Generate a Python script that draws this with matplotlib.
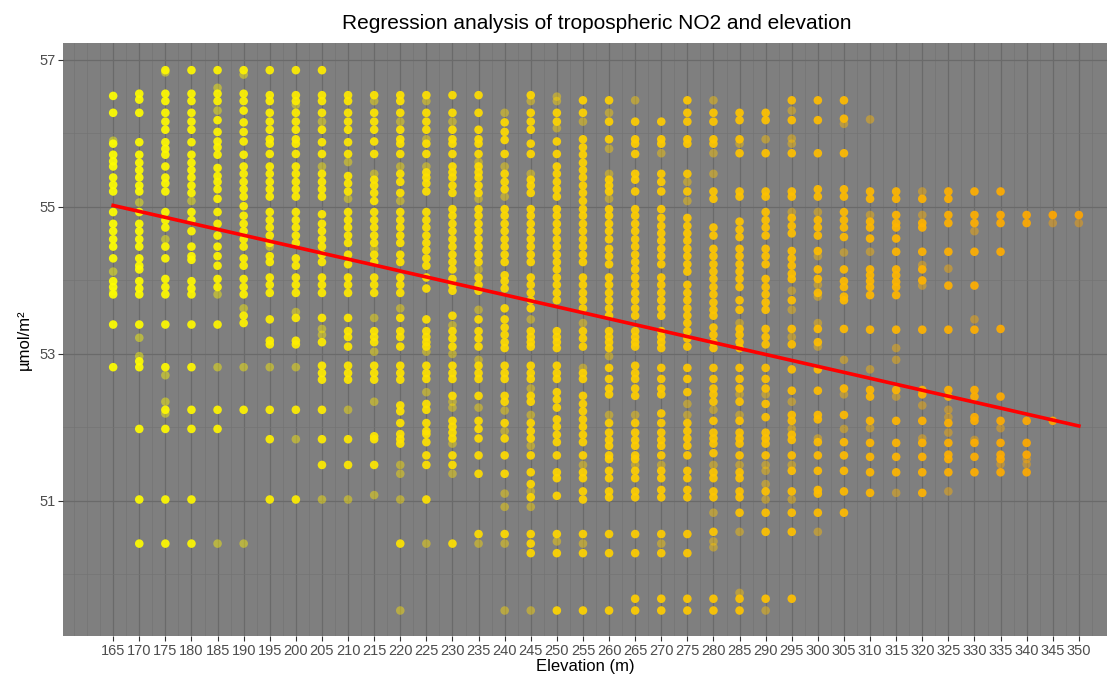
import numpy as np
import matplotlib
matplotlib.use('Agg')
import matplotlib.pyplot as plt
from matplotlib.colors import LinearSegmentedColormap, Normalize

plt.rcParams['font.family'] = ['Liberation Sans', 'DejaVu Sans']

# NO2 column values (umol/m2) read per elevation column; "faint" = single semi-transparent dots
no2_165 = [56.51, 56.28, 55.86, 55.71, 55.62, 55.55, 55.40, 55.30, 55.21, 54.93, 54.77, 54.67, 54.56, 54.46, 54.30, 53.99, 53.91, 53.81, 53.40, 52.82]
faint_165 = [55.90, 54.12, 53.85]
no2_170 = [56.54, 56.46, 56.28, 55.88, 55.71, 55.60, 55.50, 55.40, 55.29, 55.21, 54.93, 54.77, 54.67, 54.56, 54.46, 54.30, 54.20, 54.15, 53.99, 53.89, 53.81, 53.40, 52.90, 52.82, 51.98, 51.02, 50.42]
faint_170 = [55.06, 53.22, 52.97]
no2_175 = [56.86, 56.54, 56.44, 56.28, 56.16, 56.05, 55.88, 55.79, 55.71, 55.55, 55.40, 55.32, 55.21, 54.93, 54.82, 54.72, 54.46, 54.30, 54.02, 53.91, 53.81, 53.40, 52.82, 52.24, 51.98, 51.02, 50.42]
faint_175 = [56.83, 54.56, 52.71, 52.35, 52.19]
no2_180 = [56.86, 56.54, 56.44, 56.28, 56.16, 56.05, 55.88, 55.71, 55.60, 55.50, 55.40, 55.29, 55.19, 54.93, 54.82, 54.67, 54.46, 54.33, 54.28, 53.99, 53.89, 53.81, 53.40, 52.82, 52.24, 51.98, 51.02, 50.42]
faint_180 = [55.08]
no2_185 = [56.86, 56.54, 56.44, 56.18, 56.02, 55.89, 55.81, 55.71, 55.53, 55.42, 55.34, 55.24, 55.11, 54.93, 54.77, 54.61, 54.46, 54.33, 54.20, 54.02, 53.91, 53.40, 52.24, 51.98]
faint_185 = [56.62, 56.31, 53.81, 52.82, 50.42]
no2_190 = [56.86, 56.54, 56.44, 56.31, 56.15, 56.02, 55.89, 55.71, 55.55, 55.45, 55.34, 55.24, 55.14, 55.01, 54.88, 54.77, 54.67, 54.56, 54.46, 54.30, 54.20, 54.02, 53.91, 53.81, 53.52, 53.42, 52.24]
faint_190 = [56.80, 53.62, 52.82, 50.42]
no2_195 = [56.86, 56.52, 56.44, 56.28, 56.16, 56.05, 55.92, 55.86, 55.72, 55.55, 55.45, 55.34, 55.24, 55.14, 54.93, 54.82, 54.72, 54.61, 54.51, 54.33, 54.25, 54.04, 53.94, 53.83, 53.47, 53.18, 53.13, 52.24, 51.84, 51.02]
faint_195 = [54.46, 52.82]
no2_200 = [56.86, 56.52, 56.44, 56.28, 56.16, 56.05, 55.92, 55.86, 55.72, 55.55, 55.45, 55.34, 55.24, 55.14, 54.93, 54.82, 54.72, 54.61, 54.51, 54.30, 54.20, 54.04, 53.94, 53.83, 53.49, 53.18, 53.13, 52.24, 51.02]
faint_200 = [56.39, 53.57, 52.82, 51.84]
no2_205 = [56.86, 56.52, 56.44, 56.28, 56.05, 55.88, 55.72, 55.45, 55.34, 55.24, 55.14, 54.90, 54.77, 54.67, 54.56, 54.46, 54.35, 54.25, 54.04, 53.94, 53.83, 53.49, 53.16, 52.84, 52.74, 52.65, 52.24, 51.84, 51.49]
faint_205 = [56.16, 55.55, 53.34, 53.26, 51.02]
no2_210 = [56.52, 56.44, 56.28, 56.16, 56.05, 55.88, 55.72, 55.42, 55.32, 55.21, 54.93, 54.82, 54.72, 54.61, 54.51, 54.35, 54.22, 54.04, 53.94, 53.83, 53.49, 53.31, 53.23, 53.10, 52.84, 52.74, 52.65, 51.84, 51.49]
faint_210 = [55.61, 55.11, 52.24, 51.02]
no2_215 = [56.52, 56.28, 56.16, 56.05, 55.89, 55.72, 55.37, 55.29, 55.19, 55.08, 54.93, 54.82, 54.72, 54.61, 54.51, 54.35, 54.25, 54.04, 53.94, 53.83, 53.31, 53.23, 53.16, 52.84, 52.74, 52.65, 51.88, 51.84, 51.49]
faint_215 = [56.44, 55.45, 54.43, 53.49, 53.03, 52.35, 51.08]
no2_220 = [56.52, 56.44, 56.28, 56.05, 55.92, 55.86, 55.72, 55.45, 55.34, 55.19, 54.93, 54.82, 54.72, 54.61, 54.51, 54.35, 54.25, 54.04, 53.94, 53.83, 53.49, 53.31, 53.23, 53.10, 52.84, 52.74, 52.65, 52.30, 52.22, 52.06, 51.91, 51.84, 51.78, 50.42]
faint_220 = [56.16, 55.55, 55.08, 53.62, 51.49, 51.37, 51.02, 49.51]
no2_225 = [56.52, 56.28, 56.16, 56.05, 55.86, 55.72, 55.47, 55.40, 55.32, 55.21, 54.93, 54.82, 54.72, 54.61, 54.51, 54.41, 54.30, 54.20, 54.04, 53.89, 53.47, 53.31, 53.23, 53.16, 53.10, 52.84, 52.74, 52.66, 52.32, 52.24, 52.06, 51.95, 51.91, 51.80, 51.62, 51.49, 51.02]
faint_225 = [56.44, 55.92, 55.55, 53.03, 52.48, 50.42]
no2_230 = [56.52, 56.28, 56.05, 55.92, 55.86, 55.72, 55.55, 55.47, 55.40, 55.29, 55.19, 54.97, 54.88, 54.77, 54.67, 54.56, 54.46, 54.35, 54.25, 54.15, 54.02, 53.94, 53.86, 53.52, 53.31, 53.21, 53.10, 52.84, 52.74, 52.66, 52.43, 52.09, 52.01, 51.93, 51.85, 51.62, 51.49, 50.42]
faint_230 = [56.16, 53.39, 53.00, 52.35, 52.27, 51.78, 51.37]
no2_235 = [56.52, 56.28, 56.05, 55.92, 55.86, 55.72, 55.55, 55.47, 55.40, 55.29, 55.19, 54.97, 54.88, 54.77, 54.67, 54.56, 54.46, 54.35, 54.25, 54.04, 53.94, 53.86, 53.47, 53.31, 53.21, 53.10, 52.84, 52.74, 52.66, 52.43, 52.09, 51.98, 51.85, 51.62, 51.37, 50.55]
faint_235 = [55.61, 55.11, 54.15, 53.60, 52.92, 52.27, 50.42]
no2_240 = [56.15, 56.02, 55.91, 55.72, 55.45, 55.34, 55.24, 54.97, 54.88, 54.77, 54.67, 54.56, 54.46, 54.35, 54.25, 54.07, 53.99, 53.89, 53.62, 53.47, 53.36, 53.26, 53.16, 53.08, 52.84, 52.74, 52.66, 52.43, 52.35, 52.06, 51.85, 51.62, 51.37, 50.55]
faint_240 = [56.28, 55.55, 55.14, 52.23, 51.95, 51.10, 50.92, 50.42, 49.51]
no2_245 = [56.52, 56.28, 56.16, 56.05, 55.86, 55.72, 55.37, 55.29, 55.19, 54.97, 54.88, 54.77, 54.67, 54.56, 54.46, 54.35, 54.25, 54.04, 53.94, 53.83, 53.73, 53.62, 53.31, 53.23, 53.16, 53.10, 52.84, 52.74, 52.66, 52.43, 52.35, 52.06, 51.95, 51.85, 51.62, 51.39, 51.23, 51.05, 50.55, 50.42, 50.29]
faint_245 = [56.44, 55.45, 53.47, 52.53, 52.17, 51.75, 51.13, 50.92, 49.51]
no2_250 = [56.28, 56.16, 55.89, 55.72, 55.55, 55.45, 55.34, 55.24, 55.14, 54.97, 54.88, 54.77, 54.67, 54.56, 54.46, 54.35, 54.25, 54.15, 54.04, 53.94, 53.83, 53.73, 53.31, 53.23, 53.16, 53.08, 52.84, 52.74, 52.66, 52.48, 52.38, 52.27, 52.11, 52.01, 51.90, 51.80, 51.62, 51.39, 51.31, 51.07, 50.55, 50.29, 49.51]
faint_250 = [56.50, 56.44, 56.07, 50.45]
no2_255 = [56.45, 56.28, 55.92, 55.81, 55.71, 55.60, 55.50, 55.40, 55.29, 55.19, 55.08, 54.97, 54.88, 54.77, 54.67, 54.56, 54.46, 54.35, 54.25, 54.04, 53.94, 53.83, 53.73, 53.62, 53.31, 53.21, 53.10, 52.74, 52.66, 52.43, 52.32, 52.22, 52.11, 52.01, 51.90, 51.80, 51.62, 51.39, 51.31, 51.13, 51.02, 50.55, 50.29, 49.51]
faint_255 = [56.16, 53.42, 52.81, 51.49, 50.42]
no2_260 = [56.45, 56.16, 55.92, 55.37, 55.29, 55.21, 54.97, 54.88, 54.77, 54.67, 54.56, 54.43, 54.33, 54.22, 54.04, 53.94, 53.83, 53.73, 53.62, 53.52, 53.31, 53.23, 53.16, 53.08, 52.81, 52.66, 52.53, 52.45, 52.06, 51.93, 51.83, 51.75, 51.62, 51.57, 51.41, 51.31, 51.13, 51.05, 50.55, 50.29, 49.51]
faint_260 = [56.28, 55.79, 55.45, 55.11, 52.97, 52.17]
no2_265 = [56.16, 55.92, 55.86, 55.72, 55.45, 55.37, 55.21, 54.97, 54.88, 54.77, 54.67, 54.56, 54.46, 54.35, 54.25, 54.15, 54.04, 53.94, 53.83, 53.73, 53.62, 53.52, 53.31, 53.23, 53.16, 53.10, 52.84, 52.74, 52.66, 52.53, 52.43, 52.06, 51.93, 51.83, 51.75, 51.62, 51.57, 51.41, 51.31, 51.13, 51.05, 50.55, 50.29, 49.67, 49.51]
faint_265 = [56.45, 52.17, 51.49]
no2_270 = [56.16, 55.92, 55.86, 55.45, 55.34, 55.21, 54.97, 54.85, 54.74, 54.64, 54.54, 54.43, 54.33, 54.22, 54.04, 53.94, 53.83, 53.73, 53.62, 53.52, 53.31, 53.23, 53.16, 53.08, 52.81, 52.66, 52.53, 52.45, 52.19, 52.06, 51.93, 51.83, 51.75, 51.62, 51.41, 51.31, 51.15, 51.05, 50.55, 50.29, 49.67, 49.51]
faint_270 = [55.73, 51.49, 50.42]
no2_275 = [56.45, 56.28, 56.16, 55.92, 55.86, 55.45, 55.21, 54.85, 54.74, 54.64, 54.54, 54.43, 54.33, 54.22, 54.12, 53.94, 53.83, 53.73, 53.62, 53.52, 53.42, 53.31, 53.21, 53.10, 52.81, 52.66, 52.48, 52.06, 51.95, 51.85, 51.75, 51.62, 51.41, 51.31, 51.15, 51.05, 50.55, 50.29, 49.67, 49.51]
faint_275 = [55.34, 55.08, 52.32, 52.17]
no2_280 = [56.28, 56.16, 55.92, 55.86, 55.21, 55.11, 54.72, 54.61, 54.43, 54.33, 54.22, 54.12, 54.02, 53.91, 53.81, 53.70, 53.60, 53.52, 53.36, 53.26, 53.16, 53.08, 52.81, 52.66, 52.53, 52.45, 52.35, 52.09, 51.93, 51.85, 51.78, 51.65, 51.39, 51.31, 51.13, 51.05, 50.58, 49.67, 49.51]
faint_280 = [56.45, 55.73, 55.45, 52.24, 51.49, 50.84, 50.45, 50.37]
no2_285 = [56.28, 56.18, 55.92, 55.73, 55.21, 55.14, 54.80, 54.69, 54.59, 54.43, 54.33, 54.22, 54.12, 54.02, 53.91, 53.73, 53.60, 53.34, 53.26, 53.16, 53.08, 52.81, 52.66, 52.53, 52.35, 52.09, 51.93, 51.85, 51.78, 51.62, 51.39, 51.31, 51.13, 51.05, 50.84, 49.67, 49.51]
faint_285 = [55.86, 53.42, 52.45, 52.17, 51.49, 50.58, 49.75]
no2_290 = [56.28, 56.18, 55.73, 55.21, 55.14, 54.93, 54.82, 54.72, 54.61, 54.43, 54.33, 54.22, 54.02, 53.91, 53.81, 53.70, 53.60, 53.34, 53.23, 53.13, 52.81, 52.66, 52.53, 52.32, 52.14, 51.93, 51.85, 51.78, 51.62, 51.13, 50.84, 50.58, 49.67]
faint_290 = [55.92, 52.45, 51.49, 51.41, 51.23, 51.02, 49.51]
no2_295 = [56.45, 56.18, 55.73, 55.21, 55.14, 54.85, 54.74, 54.64, 54.40, 54.30, 54.20, 54.09, 54.02, 53.73, 53.34, 53.13, 52.79, 52.50, 52.17, 52.09, 51.90, 51.83, 51.62, 51.41, 51.13, 50.84, 50.58, 49.67]
faint_295 = [56.31, 55.93, 55.86, 54.93, 53.86, 53.60, 53.23, 52.35, 51.98, 51.49, 51.02]
no2_300 = [56.45, 56.18, 55.73, 55.24, 55.14, 54.82, 54.72, 54.61, 54.40, 54.15, 54.02, 53.83, 53.34, 53.16, 52.79, 52.50, 52.17, 52.11, 51.80, 51.62, 51.41, 51.15, 51.10, 50.84]
faint_300 = [54.93, 54.33, 53.94, 53.78, 53.42, 53.10, 51.85, 50.58]
no2_305 = [56.45, 56.20, 55.73, 55.24, 55.14, 54.93, 54.82, 54.72, 54.59, 54.15, 53.99, 53.91, 53.78, 53.73, 53.34, 52.53, 52.17, 51.80, 51.62, 51.41, 51.13, 50.84]
faint_305 = [56.13, 54.38, 52.92, 52.45, 51.98]
no2_310 = [55.21, 55.11, 54.80, 54.72, 54.57, 54.15, 54.07, 53.99, 53.91, 53.80, 53.33, 52.51, 52.42, 52.09, 51.79, 51.60, 51.39, 51.11]
faint_310 = [56.19, 54.89, 54.39, 52.79, 51.99]
no2_315 = [55.21, 55.11, 54.89, 54.78, 54.72, 54.57, 54.39, 54.15, 54.07, 53.98, 53.91, 53.80, 53.33, 52.51, 52.09, 51.79, 51.60, 51.39]
faint_315 = [53.08, 52.92, 52.42, 51.11]
no2_320 = [55.11, 54.78, 54.72, 54.39, 54.15, 54.00, 53.33, 52.51, 52.45, 52.09, 51.79, 51.60, 51.39, 51.11]
faint_320 = [55.21, 54.89, 54.21, 53.93, 52.30, 51.85]
no2_325 = [55.21, 55.11, 54.89, 54.78, 54.39, 53.93, 53.33, 52.51, 52.42, 52.06, 51.79, 51.63, 51.57, 51.39]
faint_325 = [54.16, 52.24, 52.14, 51.93, 51.13]
no2_330 = [55.21, 54.89, 54.78, 54.39, 53.93, 53.33, 52.51, 52.42, 52.14, 52.09, 51.79, 51.60, 51.39]
faint_330 = [54.67, 53.47, 51.83]
no2_335 = [55.21, 54.89, 54.78, 54.39, 53.34, 52.42, 52.09, 51.79, 51.63, 51.57, 51.39]
faint_335 = [51.99, 51.50]
no2_340 = [54.89, 54.78, 52.09, 51.79, 51.63, 51.39]
faint_340 = [51.57, 51.50]
no2_345 = [54.89, 52.09]
faint_345 = [54.78]
no2_350 = [54.89]
faint_350 = [54.78]

elevations = [165, 170, 175, 180, 185, 190, 195, 200, 205, 210, 215, 220, 225, 230, 235,
              240, 245, 250, 255, 260, 265, 270, 275, 280, 285, 290, 295, 300, 305, 310,
              315, 320, 325, 330, 335, 340, 345, 350]
bright_sets = [no2_165, no2_170, no2_175, no2_180, no2_185, no2_190, no2_195, no2_200, no2_205,
               no2_210, no2_215, no2_220, no2_225, no2_230, no2_235, no2_240, no2_245, no2_250,
               no2_255, no2_260, no2_265, no2_270, no2_275, no2_280, no2_285, no2_290, no2_295,
               no2_300, no2_305, no2_310, no2_315, no2_320, no2_325, no2_330, no2_335, no2_340,
               no2_345, no2_350]
faint_sets = [faint_165, faint_170, faint_175, faint_180, faint_185, faint_190, faint_195, faint_200,
              faint_205, faint_210, faint_215, faint_220, faint_225, faint_230, faint_235, faint_240,
              faint_245, faint_250, faint_255, faint_260, faint_265, faint_270, faint_275, faint_280,
              faint_285, faint_290, faint_295, faint_300, faint_305, faint_310, faint_315, faint_320,
              faint_325, faint_330, faint_335, faint_340, faint_345, faint_350]

# fitted regression line end points
fit_x = [165, 350]
fit_y = [55.02, 52.02]

bx, by, fx, fy = [], [], [], []
for e, b, f in zip(elevations, bright_sets, faint_sets):
    bx += [e] * len(b)
    by += b
    fx += [e] * len(f)
    fy += f

cmap = LinearSegmentedColormap.from_list('yo', ['#FFFF00', '#FFA500'])
norm = Normalize(165, 350)

fig = plt.figure(figsize=(11.18, 6.79), dpi=100)
ax = fig.add_axes([0.0564, 0.0633, 0.9338, 0.8734])
ax.set_facecolor('#7F7F7F')

xmaj = np.arange(165, 351, 5)
xmin = np.concatenate([[157.5, 160], np.arange(162.5, 355, 5)])
ax.set_xticks(xmaj)
ax.set_xticks(xmin, minor=True)
ax.set_yticks([51, 53, 55, 57])
ax.set_yticks([50, 52, 54, 56], minor=True)
ax.grid(which='major', color='#6A6A6A', lw=0.9)
ax.grid(which='minor', color='#747474', lw=0.5)
ax.set_axisbelow(True)

ax.scatter(fx, fy, s=38, c=cmap(norm(np.array(fx))), alpha=0.45, linewidths=0, zorder=2)
ax.scatter(bx, by, s=38, c=cmap(norm(np.array(bx))), alpha=0.92, linewidths=0, zorder=3)
ax.plot(fit_x, fit_y, color='#FF0000', lw=2.6, zorder=4)

ax.set_xlim(155.4, 355.4)
ax.set_ylim(49.163, 57.23)
for s in ax.spines.values():
    s.set_visible(False)
ax.tick_params(which='major', length=3.5, width=0.8, color='#333333', labelcolor='#4D4D4D', labelsize=10.5, pad=2)
ax.tick_params(which='minor', length=0)

ax.set_title('Regression analysis of tropospheric NO2 and elevation', fontsize=15, pad=10, x=0.511)
ax.set_xlabel('Elevation (m)', fontsize=12, labelpad=1)
ax.set_ylabel('µmol/m²', fontsize=12, labelpad=5)

fig.savefig('out.png', dpi=100)
